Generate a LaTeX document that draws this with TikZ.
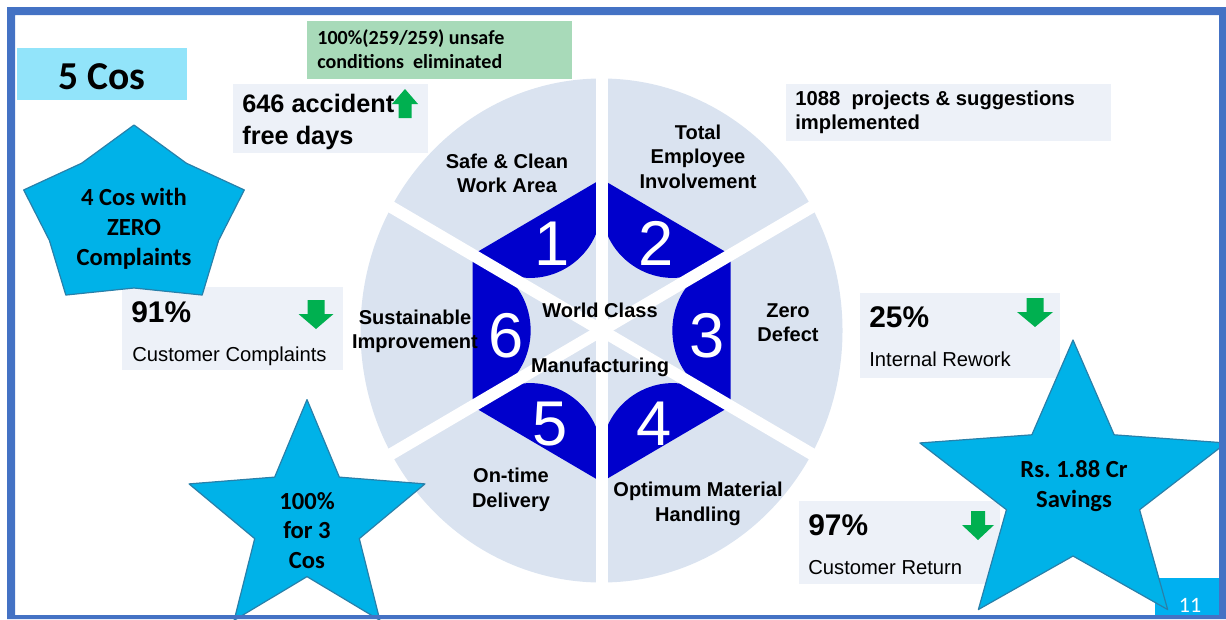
\documentclass[tikz,border=0pt]{standalone}
\usepackage{fontspec}
\setmainfont{Liberation Sans}
\newfontfamily\calibri{Carlito}
\usetikzlibrary{calc}
\frenchspacing
\definecolor{framebl}{RGB}{68,114,196}
\definecolor{segfill}{RGB}{218,227,240}
\definecolor{hexblue}{RGB}{0,0,204}
\definecolor{boxgray}{RGB}{237,241,248}
\definecolor{cosfill}{RGB}{146,228,250}
\definecolor{safegreen}{RGB}{168,218,185}
\definecolor{starcyan}{RGB}{0,178,232}
\definecolor{staredge}{RGB}{40,128,170}
\definecolor{arrowgreen}{RGB}{0,176,80}
\definecolor{pagecyan}{RGB}{0,176,240}
\newcommand{\px}{0.02cm}
\tikzset{box/.style={
  anchor=north west,
  inner sep=0pt,
  outer sep=0pt
}}
\tikzset{segtext/.style={
  font=\bfseries\fontsize{11.4}{13.9}\selectfont,
  align=center,
  inner sep=0pt
}}
\tikzset{digit/.style={
  font=\fontsize{36}{36}\selectfont,
  text=white,
  inner sep=0pt,
  anchor=base
}}
\tikzset{startext/.style={
  font=\calibri\bfseries\fontsize{14}{17}\selectfont,
  align=center,
  inner sep=0pt
}}
\tikzset{starpatch/.style={
  fill=starcyan,
  draw=staredge,
  line width=1.2*\px,
  line join=round
}}
\tikzset{bignum/.style={
  font=\bfseries\fontsize{17}{17}\selectfont,
  anchor=base west,
  inner sep=0pt
}}
\tikzset{smalltext/.style={
  font=\fontsize{11.5}{11.5}\selectfont,
  anchor=base west,
  inner sep=0pt
}}
\tikzset{gap/.style={
  white,
  line width=12*\px
}}
\newcommand{\greenarrow}[5]{%
  \fill[arrowgreen] (#1,#2) -- ++(#4,#3*15) -- ++({#5-#4},0) -- ++(0,#3*14)
    -- ++({-2*#5},0) -- ++(0,-#3*14) -- ++({#5-#4},0) -- cycle;
}
\newcommand{\starpoly}[7]{%
  \coordinate (#7) at (#1,#2);
  \filldraw[starpatch] ($(#7)+(270:#3 and #4)$)
    \foreach \a in {306,378,...,594} {
      -- ($(#7)+(\a:#5 and #6)$) -- ($(#7)+(\a+36:#3 and #4)$)
    } -- cycle;
}

\begin{document}
\begin{tikzpicture}[x=0.02cm,y=-0.02cm]
  \useasboundingbox (0,0) rectangle (1226,619);

  \coordinate (O) at (601.5,330.5);
  \coordinate (h1) at (601.5,179);
  \coordinate (h2) at (730.5,254.75);
  \coordinate (h3) at (730.5,406.25);
  \coordinate (h4) at (601.5,482);
  \coordinate (h5) at (472.5,406.25);
  \coordinate (h6) at (472.5,254.75);

  \fill[segfill] (O) ellipse [x radius=241, y radius=252];
  \foreach \a/\b in {h6/h1,h1/h2,h2/h3,h3/h4,h4/h5,h5/h6}
    \fill[hexblue] ($(O)!0.82!(\a)$) -- (\a) -- (\b) -- ($(O)!0.82!(\b)$)
      .. controls ($(O)!0.459!(\b)$) and ($(O)!0.459!(\a)$) .. ($(O)!0.82!(\a)$) -- cycle;
  \foreach \v in {h1,h2,h3,h4,h5,h6}
    \draw[gap] (O) -- ($(O)!1.7!(\v)$);

  \node[segtext] (safe) at (507,173.5) {Safe \& Clean\\Work Area};
  \node[segtext] (tei) at (698,156.5) {Total\\Employee\\Involvement};
  \node[segtext] (zd) at (788,322.5) {Zero\\Defect};
  \node[segtext] (omh) at (698,504) {Optimum Material\\Handling};
  \node[segtext] (otd) at (511,490) {On-time\\Delivery};
  \node[segtext] (si) at (415,331.5) {Sustainable\\Improvement};
  \node[segtext, anchor=base] (wc) at (600,317) {World Class};
  \node[segtext, anchor=base] (mfg) at (600,372) {Manufacturing};

  \node[digit] (d1) at (552,265) {1};
  \node[digit] (d2) at (656,265) {2};
  \node[digit] (d3) at (707,357) {3};
  \node[digit] (d4) at (654,445) {4};
  \node[digit] (d5) at (550,445) {5};
  \node[digit] (d6) at (506,357) {6};

  \node[box, fill=cosfill, minimum width=170*\px, minimum height=52*\px] (cosbox) at (17,48) {};
  \node[font=\calibri\bfseries\fontsize{22.5}{22.5}\selectfont, anchor=base, inner sep=0pt] (cos) at (102,89) {5 Cos};

  \node[box, fill=safegreen, minimum width=265*\px, minimum height=58*\px] (safebox) at (307,21) {};
  \node[font=\calibri\bfseries\fontsize{11.4}{13.6}\selectfont, align=left, anchor=west, inner sep=0pt] (unsafe) at (317,49)
    {100\%(259/259) unsafe\\conditions\ \ eliminated};

  \node[box, fill=boxgray, minimum width=195*\px, minimum height=69*\px] (accbox) at (233,84) {};
  \node[font=\bfseries\fontsize{14.4}{18.7}\selectfont, align=left, anchor=west, inner sep=0pt] (acc) at (242,122)
    {646 accident\\free days};
  \greenarrow{405}{89}{1}{13}{6.5}

  \node[box, fill=boxgray, minimum width=325*\px, minimum height=57*\px] (projbox) at (786,84) {};
  \node[font=\bfseries\fontsize{11.5}{13.6}\selectfont, align=left, anchor=west, inner sep=0pt] (proj) at (795,112)
    {1088\ \ projects \& suggestions\\implemented};

  \node[box, fill=boxgray, minimum width=221*\px, minimum height=83*\px] (ccbox) at (122,287) {};
  \node[bignum] (p91) at (131,322) {91\%};
  \node[smalltext] (ccl) at (132,361) {Customer Complaints};
  \greenarrow{316}{329}{-1}{17.5}{8.5}

  \node[box, fill=boxgray, minimum width=200*\px, minimum height=85*\px] (rwbox) at (860,293) {};
  \node[bignum] (p25) at (869,327) {25\%};
  \node[smalltext] (irw) at (869,366) {Internal Rework};
  \greenarrow{1035}{327}{-1}{18}{8.5}

  \node[box, fill=boxgray, minimum width=201*\px, minimum height=83*\px] (crbox) at (799,501) {};
  \node[bignum] (p97) at (808,535) {97\%};
  \node[smalltext] (crt) at (808,574) {Customer Return};
  \greenarrow{978}{540}{-1}{16}{7}

  \node[box, fill=pagecyan, minimum width=70*\px, minimum height=41*\px] (pgbox) at (1155,578) {};
  \node[font=\calibri\fontsize{12.5}{12.5}\selectfont, text=white, anchor=base, inner sep=0pt] (pg) at (1190,612) {11};

  \starpoly{134}{219}{116}{94}{89}{69}{s1}
  \starpoly{307}{521.6}{124}{122}{55}{55}{s2}
  \starpoly{1073}{489}{161}{149}{70}{67}{s3}
  \node[startext] (zero) at (s1) [yshift=-10*\px] {4 Cos with\\ZERO\\Complaints};
  \node[startext] (full) at (307,530.5) {100\%\\for 3\\Cos};
  \node[startext] (save) at (1074,486.5) {Rs. 1.88 Cr\\Savings};

  \fill[framebl, even odd rule] (7,7) rectangle (1226,619) (15,15) rectangle (1219,615);
\end{tikzpicture}
\end{document}
